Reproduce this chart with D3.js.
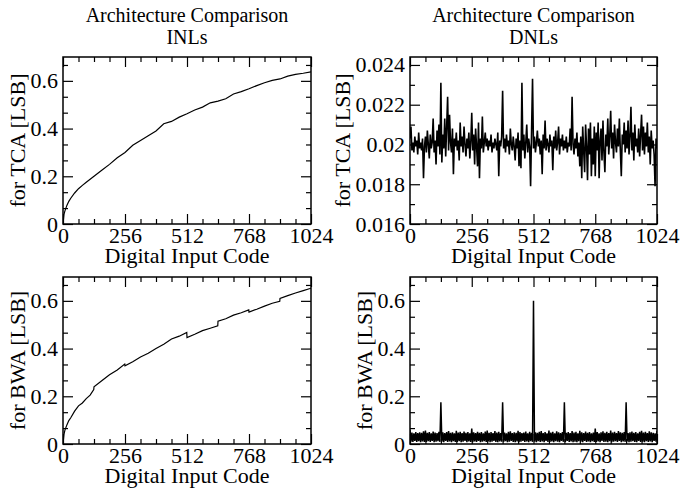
<!DOCTYPE html>
<html>
<head>
<meta charset="utf-8">
<script src="https://cdn.jsdelivr.net/npm/d3@7"></script>
<style>
body { margin: 0; background: #fff; }
text { font-family: "Liberation Serif", "Times New Roman", serif; fill: #000; }
</style>
</head>
<body>
<svg id="chart" width="680" height="490"></svg>
<script>
// ---- data ----
var codeTicks = [0, 256, 512, 768, 1024]
var inlTicks = [0, 0.2, 0.4, 0.6]
var tcaDnlTicks = [0.016, 0.018, 0.02, 0.022, 0.024]

var tcaInlCodes = [0, 4, 8, 16, 24, 32, 48, 64, 80, 96, 128, 160, 192, 224, 256, 288, 320, 352, 384,
	416, 448, 480, 512, 544, 576, 608, 640, 672, 704, 736, 768, 800, 832, 864, 896, 928, 960, 992, 1024]
var tcaInl = [0.0, 0.04, 0.055, 0.078, 0.095, 0.108, 0.13, 0.148, 0.162, 0.175, 0.2, 0.225, 0.25, 0.278,
	0.3, 0.33, 0.35, 0.37, 0.39, 0.42, 0.43, 0.448, 0.462, 0.478, 0.49, 0.508, 0.515, 0.525, 0.545,
	0.555, 0.567, 0.58, 0.592, 0.602, 0.608, 0.62, 0.627, 0.632, 0.638]

var bwaInlCodes = [0, 4, 8, 16, 24, 32, 48, 64, 80, 96, 112, 127, 128, 160, 192, 224, 255, 256, 288, 320,
	352, 384, 416, 448, 480, 511, 512, 544, 576, 608, 639, 640, 672, 704, 736, 767, 768, 800, 832, 864,
	895, 896, 928, 960, 992, 1024]
var bwaInl = [0.0, 0.04, 0.058, 0.08, 0.098, 0.11, 0.138, 0.16, 0.172, 0.19, 0.205, 0.228, 0.24, 0.265,
	0.29, 0.31, 0.335, 0.328, 0.345, 0.365, 0.38, 0.4, 0.418, 0.44, 0.452, 0.468, 0.446, 0.46, 0.475,
	0.485, 0.495, 0.515, 0.525, 0.54, 0.55, 0.562, 0.553, 0.565, 0.578, 0.59, 0.598, 0.61, 0.622,
	0.633, 0.643, 0.653]

// DNL sampled every 4 codes, 0..1024
var dnlCodes = d3.range(0, 1025, 4)
var tcaDnl = [
	0.0203, 0.0209, 0.0197, 0.0201, 0.0196, 0.0204, 0.0199, 0.0202, 0.0195, 0.0206, 0.0198, 0.0201, 0.0197, 0.0203, 0.0183, 0.0199,
	0.0204, 0.0196, 0.0207, 0.0200, 0.0193, 0.0205, 0.0198, 0.0201, 0.0213, 0.0196, 0.0202, 0.0190, 0.0207, 0.0199, 0.0210, 0.0195,
	0.0231, 0.0191, 0.0205, 0.0198, 0.0213, 0.0194, 0.0209, 0.0224, 0.0197, 0.0215, 0.0201, 0.0196, 0.0208, 0.0185, 0.0203, 0.0199,
	0.0206, 0.0197, 0.0202, 0.0192, 0.0211, 0.0199, 0.0204, 0.0196, 0.0209, 0.0200, 0.0194, 0.0203, 0.0198, 0.0206, 0.0193, 0.0201,
	0.0216, 0.0197, 0.0205, 0.0190, 0.0208, 0.0199, 0.0189, 0.0211, 0.0183, 0.0203, 0.0198, 0.0214, 0.0196, 0.0201, 0.0206, 0.0199,
	0.0203, 0.0197, 0.0202, 0.0199, 0.0205, 0.0196, 0.0201, 0.0198, 0.0203, 0.0200, 0.0197, 0.0206, 0.0184, 0.0202, 0.0199, 0.0204,
	0.0227, 0.0198, 0.0203, 0.0196, 0.0205, 0.0199, 0.0202, 0.0195, 0.0208, 0.0200, 0.0197, 0.0204, 0.0199, 0.0192, 0.0203, 0.0198,
	0.0206, 0.0189, 0.0202, 0.0188, 0.0231, 0.0197, 0.0205, 0.0193, 0.0201, 0.0210, 0.0196, 0.0203, 0.0199, 0.0179, 0.0207, 0.0233,
	0.0198, 0.0204, 0.0196, 0.0201, 0.0207, 0.0199, 0.0203, 0.0195, 0.0202, 0.0185, 0.0205, 0.0198, 0.0212, 0.0197, 0.0203, 0.0200,
	0.0196, 0.0205, 0.0199, 0.0202, 0.0187, 0.0204, 0.0198, 0.0207, 0.0197, 0.0201, 0.0209, 0.0195, 0.0203, 0.0199, 0.0205, 0.0197,
	0.0202, 0.0198, 0.0204, 0.0196, 0.0201, 0.0199, 0.0208, 0.0197, 0.0224, 0.0200, 0.0195, 0.0203, 0.0198, 0.0206, 0.0194, 0.0201,
	0.0189, 0.0204, 0.0183, 0.0209, 0.0197, 0.0186, 0.0210, 0.0199, 0.0182, 0.0208, 0.0195, 0.0211, 0.0184, 0.0203, 0.0190, 0.0209,
	0.0184, 0.0206, 0.0197, 0.0211, 0.0183, 0.0202, 0.0208, 0.0192, 0.0212, 0.0196, 0.0186, 0.0205, 0.0199, 0.0213, 0.0195, 0.0204,
	0.0217, 0.0198, 0.0206, 0.0193, 0.0210, 0.0201, 0.0196, 0.0208, 0.0199, 0.0213, 0.0197, 0.0184, 0.0205, 0.0200, 0.0211, 0.0196,
	0.0207, 0.0198, 0.0212, 0.0195, 0.0204, 0.0219, 0.0197, 0.0206, 0.0192, 0.0210, 0.0199, 0.0203, 0.0196, 0.0208, 0.0194, 0.0205,
	0.0215, 0.0197, 0.0209, 0.0195, 0.0206, 0.0199, 0.0211, 0.0196, 0.0204, 0.0190, 0.0207, 0.0198, 0.0202, 0.0195, 0.0179, 0.0203,
	0.0198]
var bwaDnl = [
	0.060, 0.010, 0.048, 0.009, 0.045, 0.013, 0.050, 0.009, 0.046, 0.012, 0.049, 0.008, 0.047, 0.011, 0.053, 0.009,
	0.056, 0.009, 0.047, 0.012, 0.050, 0.009, 0.045, 0.013, 0.052, 0.008, 0.048, 0.010, 0.046, 0.012, 0.051, 0.009,
	0.175, 0.010, 0.049, 0.008, 0.046, 0.013, 0.050, 0.009, 0.054, 0.011, 0.047, 0.008, 0.049, 0.012, 0.045, 0.009,
	0.055, 0.009, 0.048, 0.012, 0.051, 0.008, 0.046, 0.010, 0.052, 0.013, 0.047, 0.008, 0.050, 0.011, 0.045, 0.009,
	0.065, 0.008, 0.049, 0.011, 0.046, 0.009, 0.051, 0.013, 0.047, 0.008, 0.050, 0.010, 0.045, 0.012, 0.052, 0.009,
	0.056, 0.011, 0.047, 0.008, 0.050, 0.010, 0.046, 0.013, 0.054, 0.009, 0.048, 0.008, 0.051, 0.011, 0.046, 0.010,
	0.175, 0.009, 0.048, 0.012, 0.045, 0.008, 0.051, 0.010, 0.053, 0.013, 0.046, 0.009, 0.049, 0.008, 0.047, 0.011,
	0.055, 0.008, 0.050, 0.010, 0.046, 0.013, 0.048, 0.009, 0.052, 0.011, 0.045, 0.008, 0.051, 0.012, 0.047, 0.009,
	0.600, 0.010, 0.049, 0.008, 0.047, 0.012, 0.051, 0.009, 0.054, 0.011, 0.046, 0.008, 0.050, 0.013, 0.045, 0.009,
	0.056, 0.009, 0.048, 0.011, 0.051, 0.008, 0.045, 0.012, 0.053, 0.010, 0.049, 0.008, 0.046, 0.013, 0.050, 0.009,
	0.175, 0.008, 0.047, 0.013, 0.050, 0.009, 0.046, 0.011, 0.054, 0.008, 0.048, 0.010, 0.051, 0.008, 0.045, 0.012,
	0.055, 0.010, 0.049, 0.008, 0.046, 0.013, 0.052, 0.009, 0.047, 0.011, 0.050, 0.008, 0.045, 0.012, 0.048, 0.009,
	0.065, 0.009, 0.050, 0.011, 0.045, 0.008, 0.049, 0.013, 0.053, 0.009, 0.047, 0.010, 0.051, 0.008, 0.046, 0.012,
	0.056, 0.008, 0.048, 0.010, 0.051, 0.012, 0.046, 0.009, 0.054, 0.013, 0.049, 0.008, 0.047, 0.011, 0.050, 0.009,
	0.175, 0.011, 0.046, 0.008, 0.049, 0.010, 0.052, 0.012, 0.047, 0.009, 0.050, 0.008, 0.045, 0.013, 0.051, 0.009,
	0.055, 0.010, 0.048, 0.008, 0.051, 0.012, 0.046, 0.009, 0.053, 0.011, 0.049, 0.008, 0.047, 0.013, 0.045, 0.010,
	0.055]

// ---- layout ----
var g_tickFont = 22
var g_labelFont = 22
var g_titleFont = 20

var svg = d3.select("#chart")
svg.append("rect").attr("width", 680).attr("height", 490).attr("fill", "#fff")

var panels = [
	{ left: 63, top: 57, width: 248, height: 167, codes: tcaInlCodes, values: tcaInl,
	  yDomain: [0, 0.7], yTicks: inlTicks, yMinorStep: 0.2 / 3, yLabel: "for TCA [LSB]",
	  title: ["Architecture Comparison", "INLs"], lineWidth: 1.2 },
	{ left: 410, top: 57, width: 247, height: 167, codes: dnlCodes, values: tcaDnl,
	  yDomain: [0.016, 0.0244], yTicks: tcaDnlTicks, yMinorStep: 0.001, yLabel: "for TCA [LSB]",
	  title: ["Architecture Comparison", "DNLs"], lineWidth: 1.6 },
	{ left: 63, top: 277, width: 248, height: 167, codes: bwaInlCodes, values: bwaInl,
	  yDomain: [0, 0.7], yTicks: inlTicks, yMinorStep: 0.2 / 3, yLabel: "for BWA [LSB]",
	  title: null, lineWidth: 1.2 },
	{ left: 410, top: 277, width: 247, height: 167, codes: dnlCodes, values: bwaDnl,
	  yDomain: [0, 0.7], yTicks: inlTicks, yMinorStep: 0.2 / 3, yLabel: "for BWA [LSB]",
	  title: null, lineWidth: 1.5 }
]

function minorTicks(domain, step, majors) {
	var ret = []
	var n = Math.round((domain[1] - domain[0]) / step)
	for (var i = 0; i <= n; i++) {
		var v = domain[0] + i * step
		if (v > domain[1] + 1e-9) break
		var isMajor = majors.some(function(m) { return Math.abs(m - v) < step / 10 })
		if (!isMajor) ret.push(v)
	}
	return ret
}

function fmtY(d) {
	return d == 0 ? "0" : String(d)
}

function drawPanel(p, idx) {
	var g = svg.append("g").attr("transform", "translate(" + p.left + "," + p.top + ")")

	var x = d3.scaleLinear().domain([0, 1024]).range([0, p.width])
	var y = d3.scaleLinear().domain(p.yDomain).range([p.height, 0])

	var xMinor = minorTicks([0, 1024], 64, codeTicks)
	var yMinor = minorTicks(p.yDomain, p.yMinorStep, p.yTicks)

	// clip the data to the frame
	svg.append("clipPath").attr("id", "clip" + idx)
		.append("rect").attr("width", p.width).attr("height", p.height)

	var line = d3.line()
		.x(function(d, i) { return x(p.codes[i]) })
		.y(function(d) { return y(d) })

	g.append("path")
		.datum(p.values)
		.attr("clip-path", "url(#clip" + idx + ")")
		.attr("fill", "none")
		.attr("stroke", "#000")
		.attr("stroke-width", p.lineWidth)
		.attr("stroke-linejoin", "miter")
		.attr("d", line)

	// major + minor ticks, pointing inward on all sides
	var yLabelGroup = null
	var axes = [
		{ gen: d3.axisBottom, scale: x, pos: "translate(0," + p.height + ")", major: codeTicks, minor: xMinor, labels: true },
		{ gen: d3.axisTop, scale: x, pos: "translate(0,0)", major: codeTicks, minor: xMinor, labels: false },
		{ gen: d3.axisLeft, scale: y, pos: "translate(0,0)", major: p.yTicks, minor: yMinor, labels: true },
		{ gen: d3.axisRight, scale: y, pos: "translate(" + p.width + ",0)", major: p.yTicks, minor: yMinor, labels: false }
	]
	axes.forEach(function(a) {
		var isX = a.scale === x
		var major = a.gen(a.scale).tickValues(a.major).tickSizeInner(-10).tickSizeOuter(0)
			.tickPadding(isX ? 3 : 5)
			.tickFormat(a.labels ? (isX ? d3.format("d") : fmtY) : "")
		var minor = a.gen(a.scale).tickValues(a.minor).tickSizeInner(-5).tickSizeOuter(0).tickFormat("")

		var gm = g.append("g").attr("transform", a.pos).call(major)
		var gn = g.append("g").attr("transform", a.pos).call(minor)
		;[gm, gn].forEach(function(s) {
			s.select(".domain").remove()
			s.selectAll("line").attr("stroke", "#000").attr("stroke-width", 1.2)
			s.attr("font-family", null).attr("font-size", g_tickFont)
			s.selectAll("text").attr("fill", "#000")
		})
		if (!isX && a.labels) yLabelGroup = gm
	})

	// frame
	g.append("rect")
		.attr("width", p.width).attr("height", p.height)
		.attr("fill", "none").attr("stroke", "#000").attr("stroke-width", 1.5)

	// axis labels
	g.append("text")
		.attr("x", p.width / 2).attr("y", p.height + 39)
		.attr("text-anchor", "middle").attr("font-size", g_labelFont)
		.text("Digital Input Code")

	// y label sits just outside the widest tick label
	var minX = 0
	yLabelGroup.selectAll("text").each(function() {
		minX = Math.min(minX, this.getBBox().x)
	})
	g.append("text")
		.attr("transform", "translate(" + (minX - 6) + "," + p.height / 2 + ") rotate(-90)")
		.attr("text-anchor", "middle").attr("font-size", g_labelFont)
		.text(p.yLabel)

	if (p.title) {
		g.append("text")
			.attr("x", p.width / 2).attr("y", -35)
			.attr("text-anchor", "middle").attr("font-size", g_titleFont)
			.text(p.title[0])
		g.append("text")
			.attr("x", p.width / 2).attr("y", -13)
			.attr("text-anchor", "middle").attr("font-size", g_titleFont)
			.text(p.title[1])
	}
}

panels.forEach(drawPanel)
</script>
</body>
</html>
